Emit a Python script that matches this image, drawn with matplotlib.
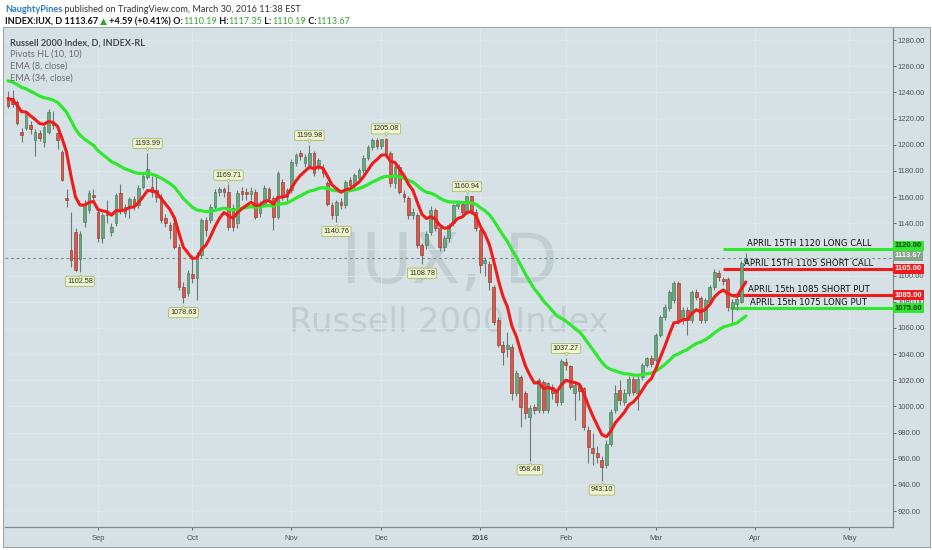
import numpy as np
import pandas as pd
import matplotlib
matplotlib.use("Agg")
import matplotlib.pyplot as plt
from matplotlib import transforms
from matplotlib.patches import Rectangle

# daily OHLC, 2015-08-04 .. 2016-03-30
opens = [1234.7, 1236.0, 1232.8, 1210.0, 1212.7, 1215.0, 1203.5, 1209.0, 1202.0, 1210.0,
         1217.5, 1208.7, 1194.6, 1159.0, 1119.4, 1133.4, 1113.0, 1141.0, 1150.0, 1161.5,
         1148.8, 1128.4, 1148.0, 1133.0, 1140.0, 1163.0, 1148.0, 1152.6, 1158.5, 1154.0,
         1168.0, 1175.5, 1168.0, 1165.0, 1160.0, 1144.0, 1138.5, 1140.0, 1122.0, 1091.4,
         1086.6, 1101.0, 1098.0, 1116.0, 1142.4, 1142.4, 1152.6, 1164.0, 1166.0, 1164.0,
         1152.0, 1140.0, 1164.6, 1164.0, 1162.0, 1164.0, 1147.7, 1155.0, 1166.0, 1159.0,
         1145.0, 1171.7, 1160.0, 1165.0, 1185.7, 1193.4, 1185.7, 1184.4, 1193.4, 1184.4,
         1182.0, 1170.4, 1153.8, 1146.0, 1156.4, 1154.0, 1173.0, 1169.0, 1174.5, 1180.6,
         1190.0, 1198.4, 1203.5, 1199.0, 1204.0, 1193.4, 1170.4, 1183.0, 1162.0, 1159.0,
         1146.0, 1146.0, 1123.0, 1123.0, 1133.5, 1150.0, 1136.0, 1122.0, 1128.4, 1140.0,
         1153.0, 1154.6, 1148.8, 1160.7, 1148.8, 1134.7, 1109.7, 1109.0, 1091.4, 1066.0,
         1046.8, 1044.0, 1045.5, 1010.0, 1022.6, 1010.0, 992.0, 999.6, 997.0, 1018.8,
         997.0, 1015.0, 1011.0, 1003.5, 1034.0, 1030.8, 1010.0, 1016.0, 1013.7, 981.8,
         967.8, 964.0, 958.9, 955.0, 971.6, 997.0, 1012.4, 1003.5, 1010.0, 1021.0,
         1010.0, 1022.6, 1031.5, 1036.6, 1035.4, 1054.5, 1068.5, 1075.0, 1081.3, 1094.0,
         1068.5, 1073.6, 1066.0, 1087.6, 1082.5, 1066.0, 1080.0, 1091.4, 1101.6, 1097.0,
         1097.0, 1075.0, 1078.0, 1080.0, 1110.19]
highs = [1241.0, 1242.0, 1234.0, 1213.0, 1226.0, 1218.0, 1212.0, 1211.0, 1215.0, 1227.0,
         1226.0, 1211.0, 1196.0, 1166.0, 1148.8, 1136.0, 1134.0, 1157.7, 1165.0, 1166.0,
         1150.0, 1148.0, 1158.0, 1140.0, 1163.0, 1170.0, 1155.0, 1160.0, 1161.0, 1169.0,
         1178.0, 1193.99, 1176.0, 1176.0, 1162.0, 1147.0, 1141.0, 1143.0, 1124.0, 1095.0,
         1104.0, 1115.6, 1118.0, 1144.0, 1145.0, 1155.0, 1166.0, 1168.0, 1168.0, 1169.71,
         1155.0, 1165.0, 1168.0, 1167.0, 1168.0, 1166.0, 1157.0, 1169.0, 1168.0, 1161.0,
         1180.0, 1174.0, 1167.0, 1189.0, 1194.0, 1196.0, 1193.0, 1199.98, 1195.0, 1190.0,
         1185.0, 1172.0, 1156.0, 1158.0, 1159.0, 1173.0, 1175.0, 1178.0, 1182.0, 1192.0,
         1200.0, 1205.0, 1205.0, 1204.5, 1205.08, 1195.0, 1185.0, 1185.0, 1165.0, 1161.0,
         1152.0, 1148.0, 1125.0, 1134.0, 1153.0, 1152.0, 1138.0, 1131.0, 1140.0, 1155.0,
         1157.0, 1157.0, 1160.94, 1160.8, 1151.0, 1136.0, 1114.0, 1111.0, 1093.0, 1068.0,
         1050.0, 1057.0, 1048.0, 1028.0, 1024.0, 1012.0, 1001.0, 1002.0, 1022.0, 1020.0,
         1019.0, 1017.0, 1013.0, 1036.0, 1037.27, 1032.0, 1018.0, 1017.0, 1015.0, 985.0,
         980.0, 970.0, 962.0, 974.0, 998.0, 1016.0, 1020.0, 1013.0, 1023.0, 1023.0,
         1023.0, 1033.0, 1038.0, 1039.0, 1056.0, 1070.0, 1078.0, 1089.0, 1096.0, 1096.0,
         1076.0, 1076.0, 1089.0, 1090.0, 1084.0, 1083.0, 1093.0, 1105.0, 1104.0, 1099.0,
         1099.0, 1082.0, 1086.0, 1111.0, 1117.35]
lows = [1228.0, 1229.0, 1215.0, 1202.0, 1211.0, 1208.0, 1191.0, 1203.0, 1198.0, 1208.0,
        1212.0, 1197.0, 1172.0, 1152.6, 1106.7, 1103.5, 1102.58, 1137.0, 1148.0, 1157.0,
        1126.0, 1125.0, 1140.0, 1130.0, 1138.0, 1147.0, 1145.0, 1144.0, 1150.0, 1152.0,
        1166.0, 1174.0, 1160.0, 1156.0, 1140.0, 1137.0, 1128.0, 1120.0, 1089.0, 1078.63,
        1084.0, 1094.0, 1081.0, 1114.0, 1130.0, 1140.0, 1150.0, 1161.0, 1160.0, 1135.0,
        1134.0, 1136.0, 1158.0, 1158.0, 1158.0, 1143.0, 1145.0, 1153.0, 1156.0, 1135.0,
        1143.0, 1158.0, 1157.0, 1163.0, 1184.0, 1188.0, 1183.0, 1182.0, 1176.0, 1181.0,
        1175.0, 1153.0, 1143.0, 1140.76, 1151.0, 1152.0, 1166.0, 1167.0, 1172.0, 1178.0,
        1188.0, 1196.0, 1197.0, 1197.0, 1191.0, 1168.0, 1167.0, 1162.0, 1156.0, 1143.0,
        1143.0, 1121.0, 1108.78, 1120.0, 1131.0, 1134.0, 1119.0, 1119.0, 1126.0, 1138.0,
        1151.0, 1146.0, 1147.0, 1147.0, 1134.0, 1101.9, 1100.0, 1089.0, 1062.0, 1045.0,
        1031.5, 1038.0, 1005.0, 1008.0, 984.4, 990.0, 958.48, 994.0, 995.0, 995.0,
        995.0, 1006.0, 1000.0, 1001.0, 1028.0, 1013.0, 989.5, 1005.0, 982.0, 956.6,
        955.0, 957.0, 943.10, 953.0, 970.0, 995.0, 1001.0, 1001.0, 1008.0, 1009.0,
        997.0, 1020.0, 1030.0, 1030.0, 1034.0, 1053.0, 1066.0, 1073.0, 1079.0, 1063.0,
        1063.0, 1054.5, 1064.0, 1081.0, 1064.0, 1064.0, 1078.0, 1089.0, 1096.0, 1093.0,
        1073.0, 1064.0, 1074.0, 1079.0, 1110.19]
closes = [1229.5, 1231.0, 1216.3, 1207.4, 1224.0, 1212.0, 1210.0, 1205.0, 1213.7, 1225.0,
          1215.0, 1203.5, 1173.0, 1157.5, 1111.8, 1104.2, 1132.0, 1153.8, 1162.8, 1159.7,
          1128.4, 1146.0, 1146.5, 1137.0, 1161.5, 1149.0, 1152.6, 1158.5, 1154.0, 1167.0,
          1176.0, 1181.4, 1164.0, 1160.0, 1142.4, 1140.0, 1135.0, 1122.0, 1091.4, 1083.8,
          1101.9, 1098.0, 1115.6, 1142.4, 1134.7, 1152.6, 1164.0, 1166.0, 1164.0, 1137.0,
          1137.0, 1163.0, 1162.0, 1162.0, 1164.6, 1145.0, 1155.0, 1167.0, 1159.0, 1145.0,
          1178.5, 1160.0, 1165.0, 1187.0, 1192.0, 1191.3, 1190.8, 1193.4, 1178.0, 1188.0,
          1178.0, 1155.0, 1146.0, 1156.4, 1154.0, 1171.7, 1169.5, 1176.8, 1180.6, 1190.0,
          1198.4, 1203.5, 1199.0, 1204.0, 1193.0, 1170.4, 1183.0, 1164.0, 1159.7, 1146.0,
          1148.8, 1123.0, 1115.6, 1132.0, 1150.0, 1136.0, 1122.0, 1128.4, 1138.6, 1153.8,
          1155.0, 1148.8, 1160.7, 1149.5, 1136.0, 1108.0, 1111.8, 1095.0, 1064.6, 1046.8,
          1041.7, 1047.0, 1010.0, 1025.6, 999.6, 994.6, 998.5, 997.0, 1020.0, 997.0,
          1017.5, 1010.0, 1003.5, 1035.0, 1032.0, 1015.0, 1016.0, 1012.0, 984.4, 969.0,
          964.0, 961.0, 953.3, 971.6, 996.0, 1010.0, 1004.8, 1010.0, 1021.0, 1011.0,
          1021.0, 1031.5, 1036.6, 1032.7, 1054.5, 1068.5, 1076.0, 1087.6, 1094.0, 1066.0,
          1073.6, 1066.0, 1087.6, 1083.8, 1066.0, 1081.2, 1091.4, 1102.9, 1099.0, 1096.0,
          1076.0, 1080.0, 1082.0, 1109.5, 1113.67]

holidays = ["2015-09-07", "2015-11-26", "2015-12-25", "2016-01-01",
            "2016-01-18", "2016-02-15", "2016-03-25"]
month_starts = ["2015-09-01", "2015-10-01", "2015-11-01", "2015-12-01", "2016-01-01",
                "2016-02-01", "2016-03-01", "2016-04-01", "2016-05-01"]
month_labels = ["Sep", "Oct", "Nov", "Dec", "2016", "Feb", "Mar", "Apr", "May"]

# Pivots HL (10, 10) bars, as marked on the chart
pivot_high_idx = [31, 49, 67, 84, 102, 124]
pivot_low_idx = [16, 39, 73, 92, 116, 132]

trade_levels = [1120, 1105, 1085, 1075]
trade_names = ["APRIL 15TH 1120 LONG CALL", "APRIL 15TH 1105 SHORT CALL",
               "APRIL 15th 1085 SHORT PUT", "APRIL 15th 1075 LONG PUT"]
trade_start = [159, 159, 161, 160.5]

last_price = 1113.67
ema_fast_seed = 1237.0   # EMA values on the bar before the first one shown
ema_slow_seed = 1250.0

BG = "#d5e1e5"
UP, DOWN = "#6aa57f", "#d8584a"
LINE_GREEN, LINE_RED = "#2fe82f", "#f01c1c"

# trading-day calendar, extended into May for the empty right side
days = pd.bdate_range("2015-08-04", "2016-05-31", freq="C", holidays=holidays)
n = len(closes)
x = np.arange(n)
month_pos = [int(np.searchsorted(days, pd.Timestamp(m))) for m in month_starts]

o = np.array(opens); h = np.array(highs); l = np.array(lows); c = np.array(closes)
ema8 = pd.Series([ema_fast_seed] + closes).ewm(span=8, adjust=False).mean().iloc[1:].values
ema34 = pd.Series([ema_slow_seed] + closes).ewm(span=34, adjust=False).mean().iloc[1:].values

fig = plt.figure(figsize=(9.32, 5.5), dpi=100, facecolor="white")
fig.patches.append(Rectangle((3 / 932, 3 / 550), 927 / 932, 520 / 550, transform=fig.transFigure,
                             facecolor=BG, edgecolor="#9ca7aa", linewidth=0.8, zorder=-1))
ax = fig.add_axes([5 / 932, 23 / 550, 888 / 932, 499 / 550])
ax.set_zorder(1)
ax.set_facecolor(BG)
ax.set_xlim(-0.67, 196.7)
ax.set_ylim(907.8, 1289.2)

for s in ["top", "left"]:
    ax.spines[s].set_visible(False)
for s in ["right", "bottom"]:
    ax.spines[s].set_color("#7f8a8d")
    ax.spines[s].set_linewidth(0.9)

yt = np.arange(920, 1281, 20)
ax.yaxis.tick_right()
ax.set_yticks(yt)
ax.set_yticklabels([f"{v:.2f}" for v in yt])
ax.set_xticks(month_pos)
ax.set_xticklabels(month_labels)
ax.tick_params(axis="both", labelsize=5.5, colors="#555555", length=2, width=0.6, pad=1.5)
ax.tick_params(axis="x", pad=3.5)
for t in ax.get_xticklabels():
    t.set_family("Liberation Sans")
    if t.get_text() == "2016":
        t.set_fontweight("bold")
for t in ax.get_yticklabels():
    t.set_family("Liberation Sans")
ax.grid(True, color="#dfe8eb", linewidth=0.6)
ax.set_axisbelow(True)

# watermark
ax.text(0.5, 0.489, "IUX, D", transform=ax.transAxes, ha="center", va="baseline",
        fontsize=50, color="#c0cdd1", zorder=0.5)
ax.text(0.5, 0.391, "Russell 2000 Index", transform=ax.transAxes, ha="center", va="baseline",
        fontsize=24.4, color="#c0cdd1", zorder=0.5)

# candles
ax.vlines(x, l, h, color="#6e7777", linewidth=0.8, zorder=2)
up = c >= o
body_lo = np.minimum(o, c)
body_h = np.maximum(np.abs(c - o), 0.5)
ax.bar(x[up], body_h[up], bottom=body_lo[up], width=0.64, color=UP,
       edgecolor="#3d7653", linewidth=0.4, zorder=2.2)
ax.bar(x[~up], body_h[~up], bottom=body_lo[~up], width=0.64, color=DOWN,
       edgecolor="#8c2e24", linewidth=0.4, zorder=2.2)

ax.plot(x, ema34, color=LINE_GREEN, linewidth=2.3, zorder=3, solid_capstyle="round")
ax.plot(x, ema8, color=LINE_RED, linewidth=2.2, zorder=3.1, solid_capstyle="round")

# last price
ax.axhline(last_price, color="#7c8b8c", linewidth=0.8, linestyle=(0, (2.5, 2.5)), zorder=1.8)

# option trade levels
ytrans = transforms.blended_transform_factory(ax.transAxes, ax.transData)
for lvl, name, x0 in zip(trade_levels, trade_names, trade_start):
    col = LINE_GREEN if "LONG" in name else LINE_RED
    ax.hlines(lvl, x0, ax.get_xlim()[1], color=col, linewidth=2.2, zorder=1.9)
    tr = transforms.offset_copy(ax.transData, fig=fig, y=2.2, units="points")
    ax.text(178, lvl, name, transform=tr, ha="center", va="baseline", fontsize=6.1,
            color="#111111", zorder=4)

# price boxes on the scale (the two near 1120 are nudged apart as on the chart)
boxes = [(1120, LINE_GREEN, "#143814", 2.6), (last_price, "#85a48b", "white", 1.2),
         (1105, LINE_RED, "white", 0), (1085, LINE_RED, "white", 0),
         (1075, LINE_GREEN, "#143814", 0)]
for v, fc, tc, dy in boxes:
    tr = transforms.offset_copy(ytrans, fig=fig, y=dy, units="points")
    ax.text(1 + 2.0 / 888, v, f"{v:.2f}", transform=tr, ha="left", va="center",
            fontsize=5.5, family="Liberation Sans", color=tc, fontweight="bold",
            bbox=dict(boxstyle="square,pad=0.2", fc=fc, ec="none"), clip_on=False, zorder=10)

# pivot labels
lab_box = dict(boxstyle="round,pad=0.22", fc="#eff6cc", ec="#9cae5e", lw=0.5)
for i in pivot_high_idx:
    tr = transforms.offset_copy(ax.transData, fig=fig, y=6.6, units="points")
    ax.text(i, h[i], f"{h[i]:.2f}", transform=tr, ha="center", va="center", fontsize=5.2,
            family="Liberation Sans", color="#2b2b2b", bbox=lab_box, zorder=5)
    trm = transforms.offset_copy(ax.transData, fig=fig, y=2.6, units="points")
    ax.plot(i, h[i], marker="v", markersize=2.6, color="#eff6cc", markeredgecolor="#9cae5e",
            markeredgewidth=0.4, transform=trm, zorder=5.1)
for i in pivot_low_idx:
    tr = transforms.offset_copy(ax.transData, fig=fig, y=-6.6, units="points")
    ax.text(i, l[i], f"{l[i]:.2f}", transform=tr, ha="center", va="center", fontsize=5.2,
            family="Liberation Sans", color="#2b2b2b", bbox=lab_box, zorder=5)
    trm = transforms.offset_copy(ax.transData, fig=fig, y=-2.6, units="points")
    ax.plot(i, l[i], marker="^", markersize=2.6, color="#eff6cc", markeredgecolor="#9cae5e",
            markeredgewidth=0.4, transform=trm, zorder=5.1)

# study legend, top left
legend_rows = [("Russell 2000 Index, D, INDEX-RL", "#4a4a4a", "bold"),
               ("Pivots HL (10, 10)", "#6d6d6d", "normal"),
               ("EMA (8, close)", "#6d6d6d", "normal"),
               ("EMA (34, close)", "#6d6d6d", "normal")]
for k, (txt, col, wt) in enumerate(legend_rows):
    fig.text(10 / 932, 1 - (42.7 + 11.8 * k) / 550, txt, fontsize=6.6, family="Lato",
             color=col, fontweight=wt, va="center", ha="left", zorder=5)


def chain(parts, x0, y0, size):
    prev = fig.text(x0, y0, parts[0][0], color=parts[0][1], fontweight=parts[0][2],
                    fontsize=size, family=["Lato", "DejaVu Sans"], va="bottom")
    for s, col, wt in parts[1:]:
        prev = ax.annotate(s, xy=(1, 0), xycoords=prev, va="bottom", ha="left",
                           color=col, fontweight=wt, fontsize=size,
                           family=["Lato", "DejaVu Sans"], annotation_clip=False)


G = "#34a534"
chain([("NaughtyPines", "#2b7bc4", "bold"),
       (" published on TradingView.com, March 30, 2016 11:38 EST", "#333333", "normal")],
      5 / 932, 1 - 14 / 550, 6.6)
chain([("INDEX:IUX, D 1113.67 ", "#111111", "bold"), ("\u25b2", G, "normal"),
       (" +4.59 (+0.41%) O:", "#111111", "bold"), ("1110.19", G, "normal"),
       (" H:", "#111111", "bold"), ("1117.35", G, "normal"),
       (" L:", "#111111", "bold"), ("1110.19", G, "normal"),
       (" C:", "#111111", "bold"), ("1113.67", G, "normal")],
      5 / 932, 1 - 26 / 550, 6.6)

fig.savefig("out.png", dpi=100, facecolor=fig.get_facecolor())
